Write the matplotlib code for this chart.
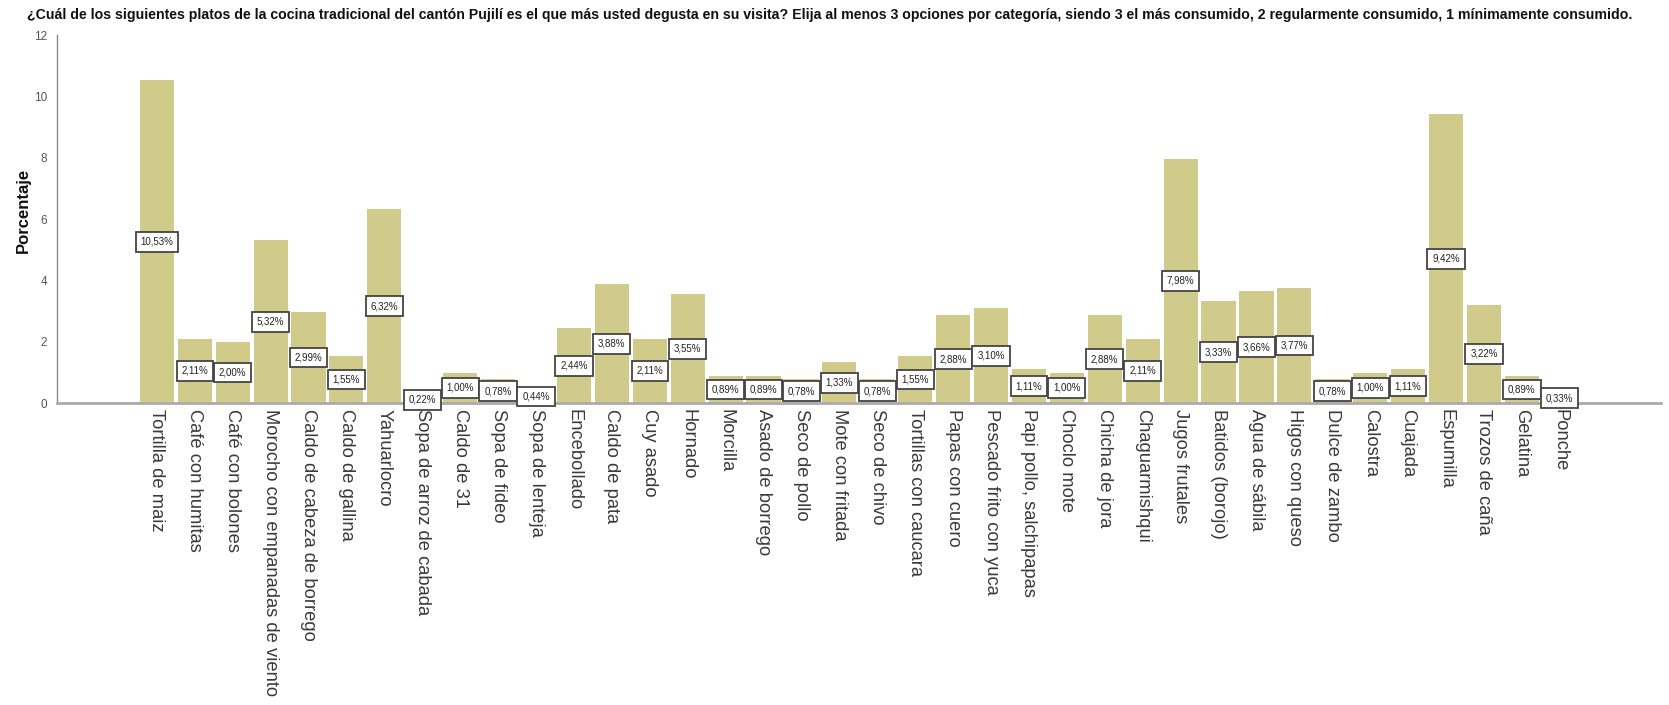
import matplotlib.pyplot as plt
import numpy as np

# categorias y porcentajes
platos = [
    "Tortilla de maiz", "Café con humitas", "Café con bolones",
    "Morocho con empanadas de viento", "Caldo de cabeza de borrego",
    "Caldo de gallina", "Yahuarlocro", "Sopa de arroz de cabada",
    "Caldo de 31", "Sopa de fideo", "Sopa de lenteja", "Encebollado",
    "Caldo de pata", "Cuy asado", "Hornado", "Morcilla",
    "Asado de borrego", "Seco de pollo", "Mote con fritada",
    "Seco de chivo", "Tortillas con caucara", "Papas con cuero",
    "Pescado frito con yuca", "Papi pollo, salchipapas", "Choclo mote",
    "Chicha de jora", "Chaguarmishqui", "Jugos frutales",
    "Batidos (borojo)", "Agua de sábila", "Higos con queso",
    "Dulce de zambo", "Calostra", "Cuajada", "Espumilla",
    "Trozos de caña", "Gelatina", "Ponche",
]
porcentaje = [
    10.53, 2.11, 2.00, 5.32, 2.99, 1.55, 6.32, 0.22, 1.00, 0.78, 0.44,
    2.44, 3.88, 2.11, 3.55, 0.89, 0.89, 0.78, 1.33, 0.78, 1.55, 2.88,
    3.10, 1.11, 1.00, 2.88, 2.11, 7.98, 3.33, 3.66, 3.77, 0.78, 1.00,
    1.11, 9.42, 3.22, 0.89, 0.33,
]
yticks = [0, 2, 4, 6, 8, 10, 12]

titulo = ("¿Cuál de los siguientes platos de la cocina tradicional del cantón Pujilí "
          "es el que más usted degusta en su visita? Elija al menos 3 opciones por "
          "categoría, siendo 3 el más consumido, 2 regularmente consumido, 1 "
          "mínimamente consumido.")

fuente = 'Liberation Sans'

fig = plt.figure(figsize=(16.69, 7.05), dpi=100)
ax = fig.add_axes([0.034, 0.428, 0.961, 0.522])

x = np.arange(len(platos))
ax.bar(x, porcentaje, width=0.9, color='#d1cb8b', edgecolor='none', zorder=2)

for xi, v in zip(x, porcentaje):
    ax.text(xi, v / 2, f"{v:.2f}%".replace('.', ','), ha='center', va='center',
            fontsize=7, family=fuente, color='#222222', zorder=3,
            bbox=dict(boxstyle='square,pad=0.5', fc='white', ec='#444444', lw=1.3))

ax.set_xlim(-2.64, 39.66)
ax.set_ylim(0, 12)
ax.set_yticks(yticks)
ax.set_yticklabels([str(t) for t in yticks], family=fuente, fontsize=8.5, color='#555555')
ax.set_xticks(x)
ax.set_xticklabels(platos, rotation=270, ha='center', va='top',
                   family=fuente, fontsize=13.2, color='#3a3a3a')
ax.tick_params(axis='both', length=0)
ax.tick_params(axis='x', pad=4)
ax.tick_params(axis='y', pad=7)

for s in ['top', 'right']:
    ax.spines[s].set_visible(False)
ax.spines['left'].set_color('#888888')
ax.spines['left'].set_linewidth(1)
ax.spines['bottom'].set_color('#aaaaaa')
ax.spines['bottom'].set_linewidth(2)

fig.text(0.014, 0.702, 'Porcentaje', rotation=90, ha='center', va='center',
         fontsize=12, fontweight='bold', family=fuente, color='#111111')
fig.text(0.016, 0.979, titulo, ha='left', va='center', fontsize=10.2,
         fontweight='bold', family=fuente, color='#111111')

fig.savefig('out.png', dpi=100)
